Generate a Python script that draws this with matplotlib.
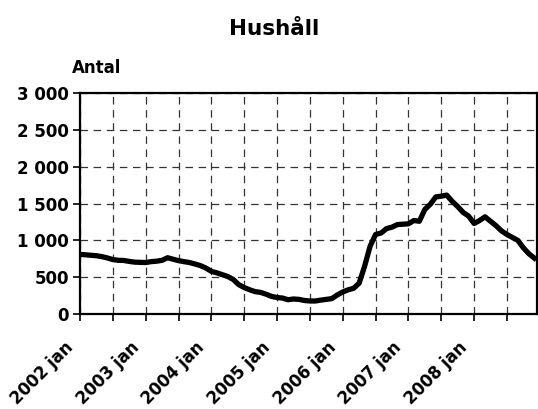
import numpy as np
import matplotlib
matplotlib.use('Agg')
import matplotlib.pyplot as plt
from matplotlib.ticker import FuncFormatter, MultipleLocator

#--- DATA ---------------------------------------------------------------------+

# monthly values, 2002 jan .. 2008 dec
antal = [810, 805, 798, 792, 780, 762, 740, 730, 728, 715, 705, 702,
         700, 712, 718, 730, 765, 745, 725, 712, 700, 680, 658, 625,
         580, 560, 535, 510, 470, 400, 360, 330, 305, 295, 270, 240,
         225, 218, 195, 205, 200, 185, 178, 178, 190, 200, 210, 260,
         300, 330, 350, 420, 650, 920, 1080, 1100, 1160, 1180, 1215, 1220,
         1225, 1270, 1260, 1420, 1490, 1590, 1600, 1615, 1530, 1460, 1380, 1330,
         1230, 1270, 1320, 1260, 1200, 1130, 1080, 1040, 1000, 900, 820, 760]
years = ['2002', '2003', '2004', '2005', '2006', '2007', '2008']
yticks = [0, 500, 1000, 1500, 2000, 2500, 3000]

#--- PLOT ---------------------------------------------------------------------+

plt.rcParams['font.family'] = ['DejaVu Sans']
plt.rcParams['font.weight'] = 'bold'

fig = plt.figure(figsize=(5.38, 4.09), dpi=100)
ax = fig.add_axes([0.1487, 0.232, 0.8495, 0.5406])

months = np.arange(len(antal))
ax.plot(months, antal, color='black', lw=3.8, solid_joinstyle='round', zorder=3)

ax.set_xlim(0, 83.5)
ax.set_ylim(0, 3000)
ax.set_yticks(yticks)
ax.yaxis.set_major_formatter(FuncFormatter(lambda v, p: '{:,}'.format(int(v)).replace(',', ' ')))
ax.xaxis.set_major_locator(MultipleLocator(6))
ax.set_xticklabels([])
for i, y in enumerate(years):
    ax.text(i * 12 - 2.9, -330, y + ' jan', rotation=45, ha='right', va='top',
            rotation_mode='anchor', fontsize=12, fontweight='bold')

ax.grid(True, color='#333333', linestyle=(0, (6, 4.5)), lw=0.9)
ax.tick_params(axis='y', labelsize=12, length=5, width=1.2, direction='out', pad=3)
ax.tick_params(axis='x', length=5, width=1.2, direction='out')
for s in ax.spines.values():
    s.set_linewidth(1.6)

fig.text(0.509, 0.93, 'Hushåll', ha='center', va='center', fontsize=15.5, fontweight='bold')
fig.text(0.134, 0.834, 'Antal', ha='left', va='center', fontsize=12, fontweight='bold')

plt.savefig('out.png', dpi=100)
